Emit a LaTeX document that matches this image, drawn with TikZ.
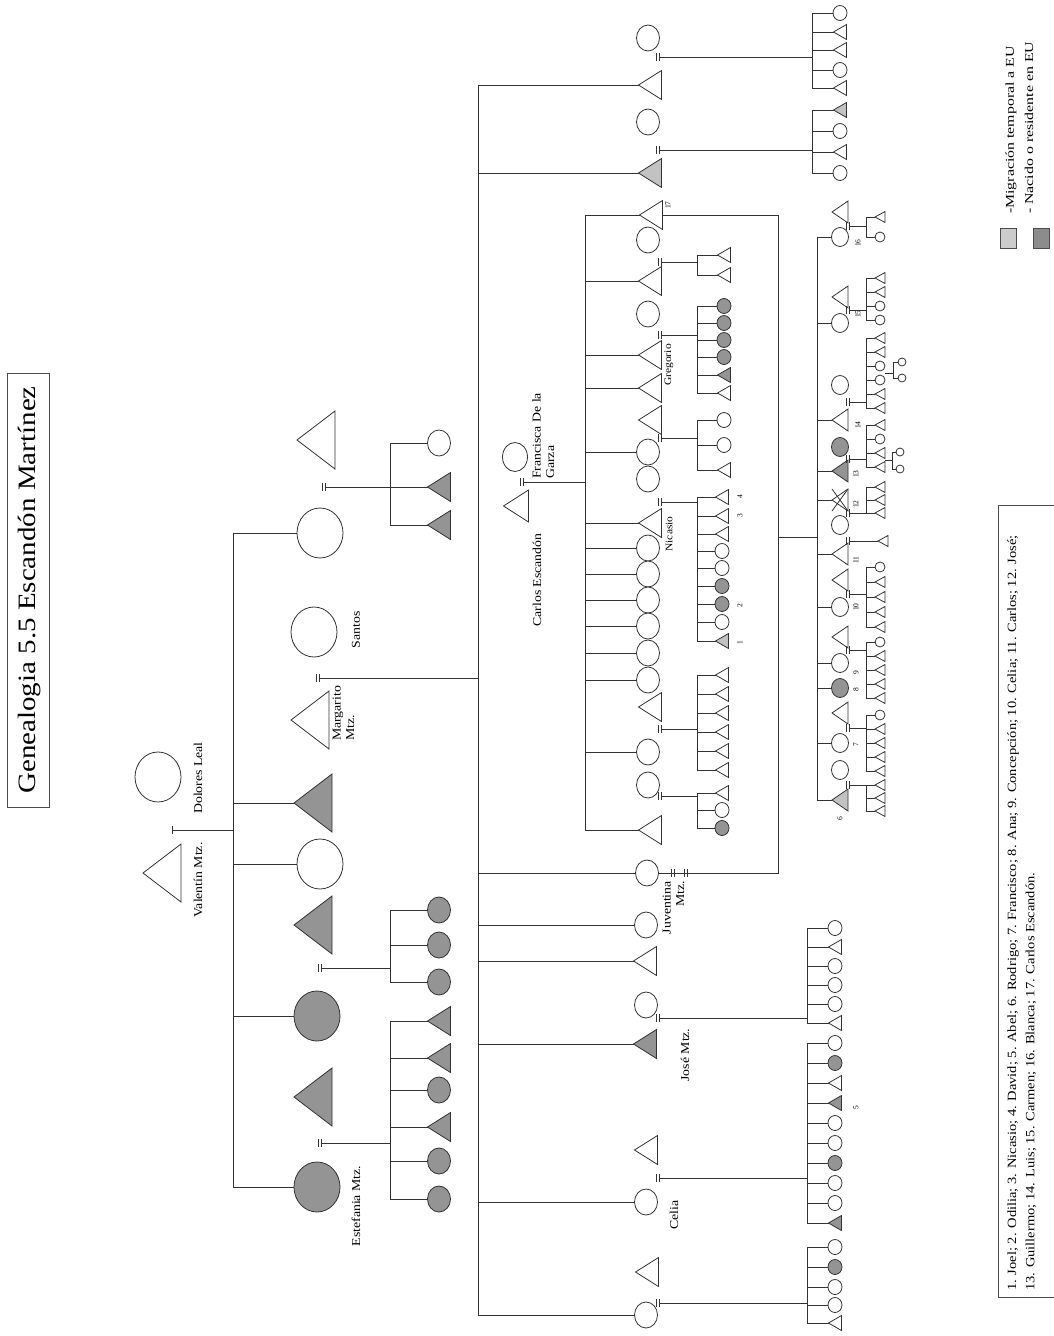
\documentclass[tikz,border=0pt]{standalone}
\usepackage{fontspec}
\setmainfont{Liberation Serif}
\usepackage{graphicx}
\usetikzlibrary{shapes.geometric}
\colorlet{cW}{white}
\colorlet{cG}{black!42}
\colorlet{cL}{black!24}
\newcommand\stx[1]{\scalebox{1.15}[1]{#1}}
\tikzset{
 ln/.style={line width=0.8pt, draw=black!80},
 symb/.style={inner sep=0pt, outer sep=0pt},
 TA/.style={symb, minimum width=38pt, minimum height=58pt},
 CA/.style={symb, ellipse, minimum width=46pt, minimum height=50pt},
 TB/.style={symb, minimum width=23pt, minimum height=29pt},
 CB/.style={symb, ellipse, minimum width=23pt, minimum height=26pt},
 TC/.style={symb, minimum width=25pt, minimum height=32pt},
 CC/.style={symb, ellipse, minimum width=25pt, minimum height=29pt},
 TS/.style={symb, minimum width=16pt, minimum height=22pt},
 CS/.style={symb, ellipse, minimum width=17pt, minimum height=19pt},
 TD/.style={symb, minimum width=13pt, minimum height=15pt},
 CD/.style={symb, ellipse, minimum width=14pt, minimum height=15pt},
 TE/.style={symb, minimum width=10pt, minimum height=11pt},
 CE/.style={symb, ellipse, minimum width=10pt, minimum height=10pt},
 TF/.style={symb, minimum width=8pt, minimum height=9pt},
 CF/.style={symb, ellipse, minimum width=8pt, minimum height=8pt},
 lab/.style={rotate=90, inner sep=0pt, font=\fontsize{12}{13.5}\selectfont},
 num/.style={rotate=90, inner sep=0pt, font=\fontsize{7.5}{8}\selectfont},
}
\newcommand\Tr[4][cW]{\node[#3] (#2) at (#4) {};\draw[ln,fill=#1] (#2.west)--(#2.north east)--(#2.south east)--cycle;}
\newcommand\Ci[4][cW]{\node[#3,ln,fill=#1] (#2) at (#4) {};}
\newcommand\Sym[5]{\if T#1\Tr[#5]{#2}{T#3}{#4}\else\Ci[#5]{#2}{C#3}{#4}\fi}
\newcommand\Kids[5]{%
 \coordinate (#1B) at (#2,0);
 \foreach \t/\y/\f [count=\i] in {#5} {\Sym{\t}{#1\i}{#4}{#3,\y}{\f}\xdef\lastk{\i}}
 \draw[ln] (#11.west -| #1B) -- (#1\lastk.west -| #1B);
 \foreach \j in {1,...,\lastk} {\draw[ln] (#1\j.west) -- (#1\j.west -| #1B);}
}
\newcommand\Mk[1]{\draw[ln,line width=0.7pt] (#1) ++(-4,-4) -- ++(0,8) ++(3,0) -- ++(0,-8);}
\newcommand\Wd[4]{\coordinate (#1) at (#2,#3);\Mk{#1}\draw[ln] (#1) -- (#1 -| #4);}
\begin{document}
\begin{tikzpicture}[x=1pt,y=-1pt]
\useasboundingbox (0,0) rectangle (1054,1336);
\clip (0,0) rectangle (1054,1336);
\fill[white] (0,0) rectangle (1054,1336);

% title
\draw[line width=0.9pt, draw=black!70] (7,373) rectangle (49,807);
\node[rotate=90, inner sep=0pt, font=\fontsize{25}{25}\selectfont] (title) at (30,590) {\scalebox{1.16}[1]{Genealogia 5.5 Escandón Martínez}};

% generation 1
\Tr{val}{TA}{162,873}
\Ci{dol}{CA}{158,777}
\node[lab] (lval) at (198,880) {\stx{Valentín Mtz.}};
\node[lab] (ldol) at (198,778) {\stx{Dolores Leal}};
\coordinate (S1) at (233,0);
\coordinate (m0) at (172,830);
\draw[ln] (m0) ++(0,-4) -- ++(0,8);
\draw[ln] (m0) -- (m0 -| S1);

% generation 2
\Tr{ga1}{TA}{316,440}
\Ci{ga2}{CA}{320,533}
\Ci{san}{CA}{314,632}
\Tr{mar}{TA}{310,720}
\Tr[cG]{ga3}{TA}{313,803}
\Ci{ga4}{CA}{320,864}
\Tr[cG]{ga5}{TA}{313,925}
\Ci[cG]{ga6}{CA}{317,1016}
\Tr[cG]{ga7}{TA}{313,1097}
\Ci[cG]{est}{CA}{317,1187}
\draw[ln] (ga2.west) -- (ga2.west -| S1) -- (est.west -| S1) -- (est.west);
\foreach \n in {ga3,ga4,ga6} {\draw[ln] (\n.west) -- (\n.west -| S1);}
\node[lab] (lsan) at (356,630) {\stx{Santos}};
\node[lab, anchor=north west] (lmar) at (331,741) {\stx{\begin{tabular}{@{}l@{}}Margarito\\Mtz.\end{tabular}}};
\node[lab] (lest) at (356,1206) {\stx{Estefania Mtz.}};

% generation 3, left
\Kids{ka}{390}{439}{B}{C/443/cW, T/487/cG, T/525/cG}
\Wd{w1}{326}{487}{kaB}
\coordinate (S3) at (478,0);
\Wd{w2}{320}{678}{S3}
\Kids{kb}{390}{439}{B}{C/910/cG, C/945/cG, C/982/cG}
\Wd{w3}{322}{968}{kbB}
\Kids{kc}{390}{439}{B}{T/1021/cG, T/1058/cG, C/1090/cG, T/1127/cG, C/1161/cG, C/1199/cG}
\Wd{w4}{322}{1143}{kcB}

% children of Margarito and Santos
\Ci{u1c}{CB}{648,38}
\Tr{u1t}{TB}{650,85}
\Ci{u2c}{CB}{648,122}
\Tr[cL]{u2t}{TB}{650,173}
\Ci{juv}{CB}{647,873}
\Ci{s3c}{CB}{646,925}
\Tr{s3t}{TB}{645,961}
\Ci{josc}{CB}{646,1005}
\Tr[cG]{jose}{TB}{645,1044}
\Tr{celt}{TB}{646,1150}
\Ci{cel}{CB}{646,1202}
\Tr{bott}{TB}{647,1272}
\Ci{botc}{CB}{646,1315}
\draw[ln] (u1t.west) -- (u1t.west -| S3) -- (botc.west -| S3) -- (botc.west);
\foreach \n in {u2t,juv,s3c,s3t,jose,cel} {\draw[ln] (\n.west) -- (\n.west -| S3);}
\node[lab, anchor=north east] (ljuv) at (661,881) {\stx{\begin{tabular}{@{}r@{}}Juventina\\Mtz.\end{tabular}}};
\node[lab] (ljos) at (685,1055) {\stx{José Mtz.}};
\node[lab] (lcel) at (674,1215) {\stx{Celia}};

\Kids{ku1}{812}{840}{D}{C/13/cW, T/32/cW, T/50/cW, C/70/cW, T/88/cW}
\Wd{w5}{660}{57}{ku1B}
\Kids{ku2}{812}{840}{D}{T/110/cL, C/131/cW, T/152/cW, C/173/cW}
\Wd{w6}{660}{150}{ku2B}
\Kids{kj}{807}{835}{D}{C/928/cW, T/947/cW, C/966/cW, C/985/cW, C/1004/cW, T/1023/cW}
\Wd{w7}{660}{1018}{kjB}
\Kids{kce}{807}{835}{D}{C/1043/cW, C/1063/cG, T/1083/cW, T/1103/cG, C/1123/cW, C/1143/cW, C/1163/cG, C/1183/cW, C/1203/cW, T/1223/cG}
\Wd{w8}{660}{1178}{kceB}
\Kids{kbo}{807}{835}{D}{C/1247/cW, C/1267/cG, C/1287/cW, C/1305/cW, T/1323/cW}
\Wd{w9}{660}{1303}{kboB}
\node[num] (n5) at (856,1108) {5};

% Carlos Escandon and Francisca De la Garza
\Ci{fra}{CC}{515,457}
\Tr{car}{TC}{516,506}
\coordinate (S4) at (585,0);
\Wd{w10}{524}{482}{S4}
\node[lab] (lcar) at (537,580) {\stx{Carlos Escandón}};
\node[lab, anchor=north west] (lfra) at (531,479) {\stx{\begin{tabular}{@{}l@{}}Francisca De la\\Garza\end{tabular}}};

\Tr{c17}{TB}{651,215}
\Ci{c2s}{CB}{648,240}
\Tr{c2}{TB}{650,281}
\Ci{c3s}{CB}{648,314}
\Tr{greg}{TB}{650,355}
\Tr{c4}{TB}{650,388}
\Tr{c5s}{TB}{650,420}
\Ci{c5}{CB}{648,452}
\Ci{nis}{CB}{648,479}
\Tr{nic}{TB}{650,523}
\Ci{c7}{CB}{648,548}
\Ci{c8}{CB}{648,574}
\Ci{c9}{CB}{648,600}
\Ci{c10}{CB}{648,626}
\Ci{c11}{CB}{648,653}
\Ci{c12}{CB}{648,680}
\Tr{c13s}{TB}{650,707}
\Ci{c13}{CB}{648,752}
\Ci{c14s}{CB}{648,785}
\Tr{c14}{TB}{650,830}
\draw[ln] (c17.west) -- (c17.west -| S4) -- (c14.west -| S4) -- (c14.west);
\foreach \n in {c2,greg,c4,c5,nic,c7,c8,c9,c10,c11,c12,c13} {\draw[ln] (\n.west) -- (\n.west -| S4);}
\node[lab, font=\fontsize{10}{11}\selectfont] (lgre) at (669,365) {\stx{Gregorio}};
\node[lab, font=\fontsize{10}{11}\selectfont] (lnic) at (669,534) {\stx{Nicasio}};
\node[num] (n17) at (668,205) {17};

\Kids{kg1}{697}{724}{D}{T/255/cW, T/275/cW}
\Wd{w11}{662}{262}{kg1B}
\Kids{kg2}{697}{724}{D}{C/306/cG, C/323/cG, C/340/cG, C/357/cG, T/375/cG, T/393/cW}
\Wd{w12}{662}{335}{kg2B}
\Kids{kg3}{697}{724}{D}{C/420/cW, C/445/cW, T/470/cW}
\Wd{w13}{662}{438}{kg3B}
\Kids{kg4}{697}{722}{D}{T/497/cW, T/516/cW, T/534/cW, C/551/cW, C/568/cW, C/586/cG, C/604/cG, C/622/cW, T/641/cL}
\Wd{w14}{662}{502}{kg4B}
\node[num] (n4) at (740,497) {4};
\node[num] (n3) at (740,516) {3};
\node[num] (n2) at (740,606) {2};
\node[num] (n1) at (740,643) {1};
\Kids{kg5}{697}{722}{D}{T/675/cW, T/694/cW, T/713/cW, T/732/cW, T/751/cW, T/770/cW}
\Wd{w15}{662}{729}{kg5B}
\Kids{kg6}{697}{722}{D}{T/793/cW, C/810/cW, C/828/cG}
\Wd{w16}{662}{796}{kg6B}

% Carlos (17) and Juventina
\coordinate (FX) at (778,0);
\draw[ln] (c17.east) -- (c17.east -| FX) -- (juv.east -| FX) -- (juv.east);
\coordinate (mj1) at (675,873); \Mk{mj1}
\coordinate (mj2) at (688,873); \Mk{mj2}
\coordinate (S5) at (817,0);
\coordinate (fj) at (778,537);
\draw[ln] (fj) -- (fj -| S5);

\Tr{s16s}{TS}{840,212}
\Ci{s16}{CS}{840,237}
\Tr{s15s}{TS}{840,297}
\Ci{s15}{CS}{840,323}
\Ci{s14s}{CS}{840,385}
\Tr{s14}{TS}{840,420}
\Ci[cG]{s13s}{CS}{840,447}
\Tr[cG]{s13}{TS}{840,471}
\Tr{s12}{TS}{840,500}
\draw[ln] (s12.north west) -- (s12.south east) (s12.south west) -- (s12.north east);
\Ci{s12s}{CS}{840,525}
\Tr{s11}{TS}{840,554}
\Tr{s10s}{TS}{840,580}
\Ci{s10}{CS}{840,607}
\Tr{s9s}{TS}{840,637}
\Ci{s9}{CS}{840,663}
\Ci[cG]{s8}{CS}{840,688}
\Tr{s7s}{TS}{840,713}
\Ci{s7}{CS}{840,743}
\Ci{s6s}{CS}{840,770}
\Tr[cL]{s6}{TS}{840,800}
\draw[ln] (s16.west) -- (s16.west -| S5) -- (s6.west -| S5) -- (s6.west);
\foreach \n in {s15,s14,s13,s12,s11,s10,s9,s8,s7} {\draw[ln] (\n.west) -- (\n.west -| S5);}
\node[num] (n16) at (858,243) {16};
\node[num] (n15) at (858,314) {15};
\node[num] (n14) at (858,425) {14};
\node[num] (n13) at (856,474) {13};
\node[num] (n12) at (856,504) {12};
\node[num] (n11) at (856,560) {11};
\node[num] (n10) at (856,607) {10};
\node[num] (n9) at (856,673) {9};
\node[num] (n8) at (856,690) {8};
\node[num] (n7) at (856,745) {7};
\node[num] (n6) at (840,819) {6};

\Kids{k16}{866}{880}{E}{T/217/cW, C/237/cW}
\Wd{x16}{850}{226}{k16B}
\Kids{k15}{866}{880}{E}{T/278/cW, T/292/cW, C/306/cW, C/320/cW}
\Wd{x15}{850}{310}{k15B}
\Kids{k14}{866}{880}{E}{T/338/cW, T/352/cW, C/366/cW, C/380/cW, T/394/cW, T/408/cW}
\Wd{x14}{850}{402}{k14B}
\Kids{k13}{866}{880}{E}{T/425/cW, C/439/cW, T/453/cW, T/467/cW}
\Wd{x13}{850}{459}{k13B}
\Kids{k12}{866}{880}{E}{T/487/cW, T/500/cW, T/513/cW}
\Wd{x12}{850}{513}{k12B}
\Tr{k11}{TE}{883,541}
\coordinate (x11) at (850,541); \Mk{x11}
\draw[ln] (x11) -- (k11.west);
\Kids{k10}{866}{880}{E}{C/567/cW, T/582/cW, T/597/cW, T/612/cW, T/627/cW}
\Wd{x10}{850}{594}{k10B}
\Kids{k9}{866}{880}{E}{C/642/cW, T/656/cW, T/670/cW, T/684/cW, T/698/cW}
\Wd{x9}{850}{650}{k9B}
\Kids{k7}{866}{880}{E}{C/715/cW, T/729/cW, T/743/cW, T/757/cW, T/771/cW}
\Wd{x7}{850}{728}{k7B}
\Kids{k6}{866}{880}{E}{T/785/cW, T/798/cW, T/811/cW}
\Wd{x6}{850}{785}{k6B}

% great-great-grandchildren
\coordinate (y14) at (890,373);
\draw[ln] (k144.east |- y14) -- (y14);
\Kids{h14}{893}{902}{F}{C/362/cW, C/378/cW}
\draw[ln] (y14) -- (y14 -| h14B);
\coordinate (y13) at (888,460);
\draw[ln] (k133.east |- y13) -- (y13);
\Kids{h13}{892}{900}{F}{C/452/cW, C/469/cW}
\draw[ln] (y13) -- (y13 -| h13B);

% legend
\node[draw=black!70, fill=black!20, minimum width=16pt, minimum height=20pt] (sq1) at (1008,238) {};
\node[draw=black!70, fill=black!45, minimum width=16pt, minimum height=20pt] (sq2) at (1041,238) {};
\node[rotate=90, anchor=west, inner sep=0pt, font=\fontsize{12}{13}\selectfont] (leg1) at (1011,214) {\scalebox{1.32}[1]{-Migración temporal a EU}};
\node[rotate=90, anchor=west, inner sep=0pt, font=\fontsize{12}{13}\selectfont] (leg2) at (1029,214) {\scalebox{1.32}[1]{- Nacido o residente en EU}};

% notes
\draw[line width=0.8pt, draw=black!70] (1056,505) -- (998,505) -- (998,1297) -- (1056,1297);
\node[rotate=90, anchor=west, inner sep=0pt, font=\fontsize{12.6}{13}\selectfont] (note1) at (1013,1291) {\stx{1. Joel; 2. Odilia; 3. Nicasio; 4. David; 5. Abel; 6. Rodrigo; 7. Francisco; 8. Ana; 9. Concepción; 10. Celia; 11. Carlos; 12. José;}};
\node[rotate=90, anchor=west, inner sep=0pt, font=\fontsize{12.6}{13}\selectfont] (note2) at (1031,1291) {\stx{13. Guillermo; 14. Luis; 15. Carmen; 16. Blanca; 17. Carlos Escandón.}};
\end{tikzpicture}
\end{document}
